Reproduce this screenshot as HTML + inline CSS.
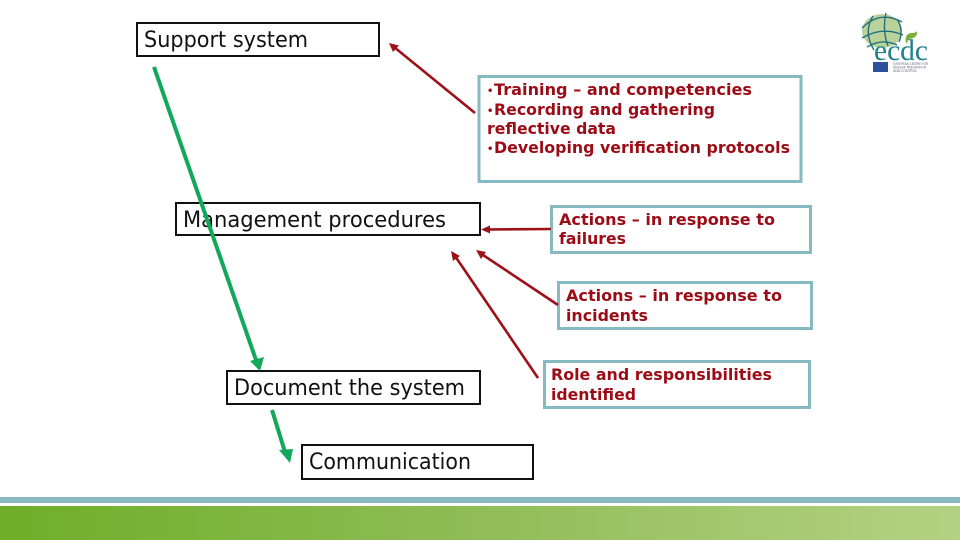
<!DOCTYPE html>
<html><head><meta charset="utf-8"><style>
html,body{margin:0;padding:0;background:#fff;width:960px;height:540px;overflow:hidden}
svg{display:block}
text{font-family:"DejaVu Sans","Liberation Sans",sans-serif}
.k{font-size:22px;fill:#111}
.r{font-size:16px;font-weight:bold;fill:#9c0c16}
.d{font-size:10px;font-weight:bold;fill:#9c0c16}
.b{fill:#fff;stroke:#111;stroke-width:2}
.t{fill:#fff;stroke:#86bac0;stroke-width:3}
.rl{stroke:#9e1018;stroke-width:2.6;fill:none}
.gl{stroke:#12a85c;stroke-width:4;fill:none}
</style></head><body>
<svg width="960" height="540" viewBox="0 0 960 540" xmlns="http://www.w3.org/2000/svg">
<defs><linearGradient id="g" x1="0" x2="1" y1="0" y2="0"><stop offset="0" stop-color="#6fae28"/><stop offset=".5" stop-color="#90bd57"/><stop offset="1" stop-color="#b3d283"/></linearGradient></defs>

<rect class="b" x="137" y="23" width="242" height="33"/>
<text class="k" x="144" y="47" textLength="164" lengthAdjust="spacingAndGlyphs">Support system</text>
<rect class="b" x="176" y="203" width="304" height="32"/>
<text class="k" x="183" y="227" textLength="263" lengthAdjust="spacingAndGlyphs">Management procedures</text>
<rect class="b" x="227" y="371" width="253" height="33"/>
<text class="k" x="234" y="395" textLength="231" lengthAdjust="spacingAndGlyphs">Document the system</text>
<rect class="b" x="302" y="445" width="231" height="34"/>
<text class="k" x="309" y="469" textLength="162" lengthAdjust="spacingAndGlyphs">Communication</text>

<rect class="t" x="479" y="76.500" width="322" height="105"/>
<text class="d" x="487" y="94">•</text>
<text class="r" x="494" y="95" textLength="258" lengthAdjust="spacingAndGlyphs">Training – and competencies</text>
<text class="d" x="487" y="114">•</text>
<text class="r" x="494" y="115" textLength="221" lengthAdjust="spacingAndGlyphs">Recording and gathering</text>
<text class="r" x="487" y="134" textLength="129" lengthAdjust="spacingAndGlyphs">reflective data</text>
<text class="d" x="487" y="152">•</text>
<text class="r" x="494" y="153" textLength="296" lengthAdjust="spacingAndGlyphs">Developing verification protocols</text>

<rect class="t" x="551.500" y="206.500" width="259" height="46"/>
<text class="r" x="559" y="225" textLength="216" lengthAdjust="spacingAndGlyphs">Actions – in response to</text>
<text class="r" x="559" y="244" textLength="67" lengthAdjust="spacingAndGlyphs">failures</text>
<rect class="t" x="558.500" y="282.500" width="253" height="46"/>
<text class="r" x="566" y="301" textLength="216" lengthAdjust="spacingAndGlyphs">Actions – in response to</text>
<text class="r" x="566" y="321" textLength="82" lengthAdjust="spacingAndGlyphs">incidents</text>
<rect class="t" x="544.500" y="361.500" width="265" height="46"/>
<text class="r" x="551" y="380" textLength="221" lengthAdjust="spacingAndGlyphs">Role and responsibilities</text>
<text class="r" x="551" y="400" textLength="85" lengthAdjust="spacingAndGlyphs">identified</text>

<g class="rl">
<line x1="475" y1="113" x2="394" y2="47"/>
<line x1="551" y1="229" x2="486" y2="229.500"/>
<line x1="558" y1="305" x2="480" y2="253"/>
<line x1="538" y1="378" x2="455" y2="256"/>
</g>
<g fill="#9e1018">
<polygon points="389,43 399,45.500 393,52"/>
<polygon points="481,229.500 490,225.500 490,233.500"/>
<polygon points="476,250 486,252 481,259"/>
<polygon points="451,251 460,256 453,261"/>
</g>

<line class="gl" x1="154" y1="67" x2="256" y2="360"/>
<line class="gl" x1="272" y1="410" x2="285" y2="452"/>
<g fill="#12a85c">
<polygon points="250,361 264,357 260,371"/>
<polygon points="279,450 293,449 290,463"/>
</g>

<!-- logo -->
<g>
<ellipse cx="882" cy="31" rx="20" ry="17" fill="#b9d29c"/>
<path d="M862 28 Q880 10 902 22 M862 38 Q882 26 903 35 M867 47 Q882 38 897 45 M873 16 Q863 32 874 50 M886 13 Q882 30 888 46 M897 19 Q904 30 899 42" fill="none" stroke="#256f7a" stroke-width="1.400"/>
<path d="M906 44 Q904 33 912 33 Q916 33 917 31 Q918 38 909 39" fill="#7fae3c"/>
<text x="874" y="60" font-size="30" fill="#1f7f8c" textLength="54" lengthAdjust="spacingAndGlyphs" style="font-family:'Liberation Serif',serif">ecdc</text>
<rect x="873" y="62" width="15" height="10" fill="#2c4f9e"/>
<text x="893" y="65" font-size="3.500" fill="#667" textLength="35" lengthAdjust="spacingAndGlyphs">EUROPEAN CENTRE FOR</text>
<text x="893" y="68.500" font-size="3.500" fill="#667" textLength="33" lengthAdjust="spacingAndGlyphs">DISEASE PREVENTION</text>
<text x="893" y="72" font-size="3.500" fill="#667" textLength="24" lengthAdjust="spacingAndGlyphs">AND CONTROL</text>
</g>

<rect x="0" y="497" width="960" height="6" fill="#86bac0"/>
<rect x="0" y="506" width="960" height="34" fill="url(#g)"/>
</svg>
</body></html>
